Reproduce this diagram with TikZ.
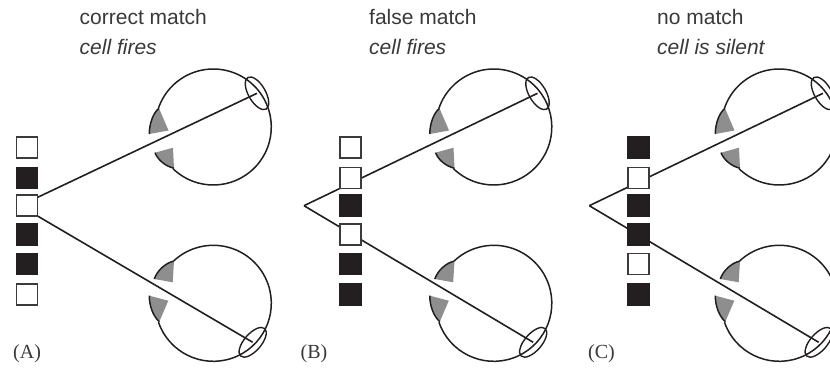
\documentclass[tikz,border=0pt]{standalone}
\usepackage{fontspec}
\setmainfont{Liberation Sans}
\newfontfamily\tagfont{Liberation Serif}
\usetikzlibrary{shapes.geometric}
\definecolor{ink}{HTML}{231F20}
\definecolor{textgray}{HTML}{3A3839}
\definecolor{retinagray}{HTML}{8E8E8E}
\tikzset{
  wall/.style={draw=ink,line width=1.5pt},
  retina/.style={fill=retinagray},
  lens/.style={draw=ink,line width=1.4pt,ellipse,inner sep=0pt,minimum width=36.5pt,minimum height=17pt},
  ray/.style={draw=ink,line width=1.6pt},
  wcell/.style={draw=ink!88,fill=white,line width=1.8pt,minimum size=21pt,inner sep=0pt},
  bcell/.style={draw=ink,fill=ink,line width=1.8pt,minimum size=21pt,inner sep=0pt},
  head/.style={anchor=base west,inner sep=0pt,text=textgray,font=\fontsize{21}{24}\selectfont},
  tag/.style={anchor=base west,inner sep=0pt,text=textgray,font=\fontsize{20}{22}\selectfont\tagfont}
}
\newcommand{\eyeup}[2]{
  \begin{scope}[shift={(#1,0)}]
    \fill[retina] (159,-108.3) .. controls (153,-113) and (149.3,-124) .. (149.3,-134) -- (168.5,-130.5) -- cycle;
    \fill[retina] (155,-152.7) .. controls (158,-160) and (165,-166) .. (174,-168.3) -- (173,-147.7) -- cycle;
    \draw[wall] (159,-108.3) .. controls (153,-113) and (149.3,-124) .. (149.3,-134);
    \draw[wall] (155,-152.7) .. controls (158,-160) and (165,-166) .. (174,-168.3);
    \draw[wall] (213.3,-127) ++(226:58) arc[start angle=226,end angle=521,radius=58];
    \node[lens,rotate=-60] (#2) at (257,-93.3) {};
  \end{scope}
}
\newcommand{\eyedown}[2]{
  \begin{scope}[shift={(#1,0)}]
    \fill[retina] (174,-261) .. controls (165,-263) and (157,-271) .. (154.3,-279) -- (172.7,-282.3) -- cycle;
    \fill[retina] (149.3,-295.7) .. controls (149.3,-306) and (153,-316) .. (159.3,-321.7) -- (168.3,-300.7) -- cycle;
    \draw[wall] (174,-261) .. controls (165,-263) and (157,-271) .. (154.3,-279);
    \draw[wall] (149.3,-295.7) .. controls (149.3,-306) and (153,-316) .. (159.3,-321.7);
    \draw[wall] (213.3,-303.3) ++(199:58) arc[start angle=199,end angle=493,radius=58];
    \node[lens,rotate=49] (#2) at (252.7,-342.3) {};
  \end{scope}
}
\begin{document}
\begin{tikzpicture}[x=1pt,y=1pt]
  \useasboundingbox (0,-369) rectangle (830,0);
  \clip (0,-369) rectangle (830,0);

  \eyeup{0}{lensat}
  \eyedown{0}{lensab}
  \eyeup{280.5}{lensbt}
  \eyedown{280.5}{lensbb}
  \eyeup{566}{lensct}
  \eyedown{566}{lenscb}

  \coordinate (apexa) at (20,-205.7);
  \coordinate (apexb) at (304,-205.7);
  \coordinate (apexc) at (589.3,-205.7);

  \begin{scope}[ray]
    \draw (apexa) -- (lensat.center);
    \draw (apexa) -- (lensab.center);
    \draw (apexb) -- (lensbt.center);
    \draw (apexb) -- (lensbb.center);
    \draw (apexc) -- (lensct.center);
    \draw (apexc) -- (lenscb.center);
  \end{scope}

  \foreach \n/\y/\kind in {a1/147.5/wcell,a2/178/bcell,a3/205.8/wcell,a4/234.7/bcell,a5/264/bcell,a6/294.7/wcell}
    \node[\kind] (\n) at (27,-\y) {};
  \foreach \n/\y/\kind in {b1/147.5/wcell,b2/178/wcell,b3/205.8/bcell,b4/234.7/wcell,b5/264/bcell,b6/294.7/bcell}
    \node[\kind] (\n) at (350.3,-\y) {};
  \foreach \n/\y/\kind in {c1/147.5/bcell,c2/178/wcell,c3/205.8/bcell,c4/234.7/bcell,c5/264/wcell,c6/294.7/bcell}
    \node[\kind] (\n) at (638.3,-\y) {};

  \node[head] (heada) at (79.5,-24.5) {correct match};
  \node[head] (subheada) at (79.5,-54.5) {\itshape cell fires};
  \node[head] (headb) at (369,-24.5) {false match};
  \node[head] (subheadb) at (369,-54.5) {\itshape cell fires};
  \node[head] (headc) at (657,-24.5) {no match};
  \node[head] (subheadc) at (657,-54.5) {\itshape cell is silent};

  \node[tag] (taga) at (13,-358) {(A)};
  \node[tag] (tagb) at (300.5,-358) {(B)};
  \node[tag] (tagc) at (588,-358) {(C)};
\end{tikzpicture}
\end{document}
